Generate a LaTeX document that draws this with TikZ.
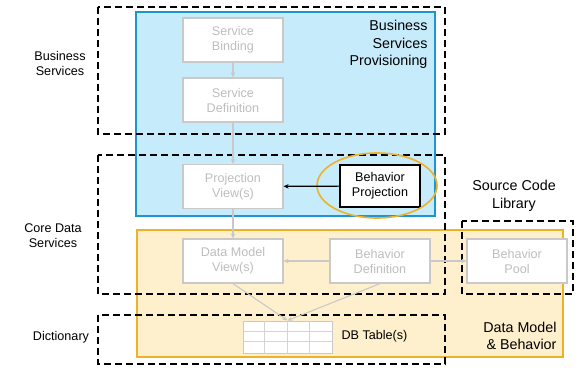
\documentclass[tikz,border=0pt]{standalone}
\usepackage{fontspec}
\setmainfont{Liberation Sans}
\usetikzlibrary{arrows.meta,shapes.geometric}
\definecolor{bsblue}{HTML}{C6EBFA}
\definecolor{bsline}{HTML}{1C95D5}
\definecolor{dmfill}{HTML}{FEF0CD}
\definecolor{dmline}{HTML}{EFB226}
\definecolor{greyline}{HTML}{C9C9C9}
\definecolor{greytext}{HTML}{BEBEBE}
\begin{document}
\begin{tikzpicture}[x=1pt, y=-1pt, >={Stealth[length=5pt,width=4.5pt]},
  font=\fontsize{12.6}{15}\selectfont,
  biglabel/.style={font=\fontsize{14.3}{17.5}\selectfont},
  artefact/.style={draw=greyline, line width=1.2pt, fill=white, text=greytext, align=center, minimum width=100, minimum height=44, inner sep=1pt},
  greyarrow/.style={->, draw=greyline, line width=1.1pt},
  layerbox/.style={draw, dashed, line width=1.6pt, dash pattern=on 7pt off 4pt}]
\useasboundingbox (0,0) rectangle (582,373);

% areas
\draw[fill=bsblue, draw=bsline, line width=1.6pt] (136,12) rectangle (435,216);
\draw[fill=dmfill, draw=dmline, line width=1.6pt] (137,230) rectangle (563,357);

% layers
\draw[layerbox] (98,7) rectangle (445,134);
\draw[layerbox] (98,155) rectangle (445,294);
\draw[layerbox] (98,315) rectangle (445,364);
\draw[layerbox] (462,221) rectangle (573,294);

\node at (60,63.5) [align=center] (lbs) {Business\\Services};
\node at (53,235.5) [align=center] (lcds) {Core Data\\Services};
\node at (61,337) (ldict) {Dictionary};
\node at (431,44.5) [biglabel, anchor=east, align=right] (lbsp) {Business\\Services\\Provisioning};
\node at (514,196) [biglabel, align=center] (lscl) {Source Code\\Library};
\node at (560,336) [biglabel, anchor=east, align=right] (ldmb) {Data Model\\\& Behavior};

\node[artefact] (sb) at (233,40) {Service\\Binding};
\node[artefact] (sd) at (233,100) {Service\\Definition};
\node[artefact] (pv) at (233,186.5) {Projection\\View(s)};
\node[artefact] (dmv) at (233,261) {Data Model\\View(s)};
\node[artefact] (bd) at (380,261) {Behavior\\Definition};
\node[artefact] (bp) at (517,261) {Behavior\\Pool};
\node[draw, line width=1.4pt, fill=white, align=center, minimum width=80, minimum height=42, inner sep=1pt] (bproj) at (380,186) {Behavior\\Projection};
\node[draw=dmline, line width=1.6pt, ellipse, minimum width=120, minimum height=65] (ell) at (377,185.5) {};

\node[draw=greyline, line width=1pt, fill=white, minimum width=89, minimum height=32, inner sep=0pt] (tbl) at (287.5,337) {};
\foreach \i in {1,2,3} \draw[greyline!80, line width=1pt] ([xshift=\i*22.25pt]tbl.north west) -- ([xshift=\i*22.25pt]tbl.south west);
\foreach \j in {1,2} \draw[greyline!80, line width=1pt] ([yshift=-\j*10.67pt]tbl.north west) -- ([yshift=-\j*10.67pt]tbl.north east);
\node[anchor=west] (dbt) at (338,336) {DB Table(s)};

\draw[greyarrow] (sb) -- (sd);
\draw[greyarrow] (sd) -- (pv);
\draw[greyarrow] (pv) -- (dmv);
\draw[greyarrow] (bd) -- (dmv);
\draw[greyarrow] (bd) -- (bp);
\draw[greyarrow] (dmv.south) -- (tbl.north);
\draw[greyarrow] (bd.south) -- (tbl.north);
\draw[->, line width=1.2pt] (bproj) -- (pv);
\end{tikzpicture}
\end{document}
